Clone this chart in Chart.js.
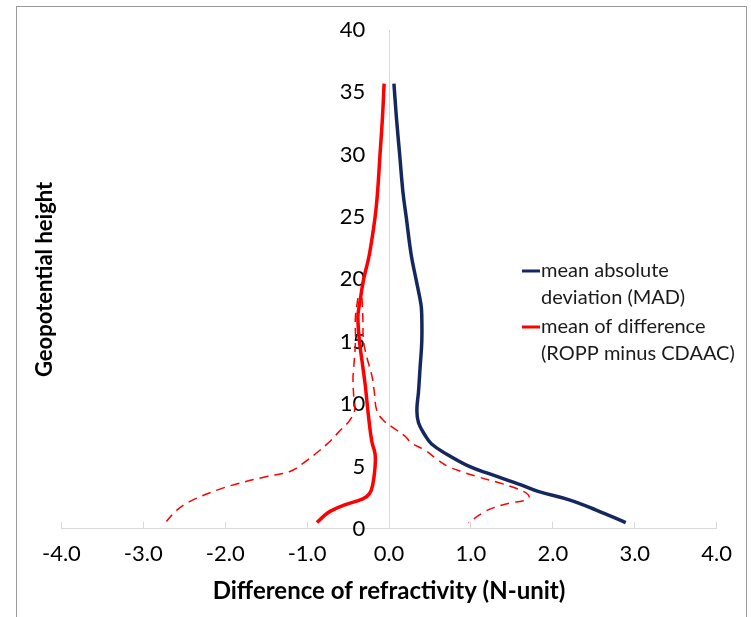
<!DOCTYPE html>
<html>
<head>
<meta charset="utf-8">
<script src="https://cdn.jsdelivr.net/npm/chart.js@4.4.1/dist/chart.umd.min.js"></script>
<style>
  html, body { margin: 0; padding: 0; background: #fff; }
  canvas { display: block; }
</style>
</head>
<body>
<canvas id="profile-chart" width="751" height="617"></canvas>
<script>
const profileChart = document.getElementById("profile-chart");

// 높이(Geopotential height) / 값 (N-unit)
const madHeight = [35.7, 33, 30, 27, 25, 22, 20, 18, 17, 15, 13, 11, 9.5, 8.5, 7.5, 6.8, 6, 5, 4.4, 3.5, 3, 2.3, 1.5, 0.5];
const madValues = [0.06, 0.09, 0.13, 0.17, 0.21, 0.27, 0.33, 0.39, 0.40, 0.40, 0.38, 0.36, 0.34, 0.36, 0.44, 0.52, 0.70, 0.98, 1.23, 1.62, 1.82, 2.21, 2.53, 2.89];

const meanHeight = [35.7, 33, 30, 27, 25, 22, 20, 18, 17, 15, 13, 11.5, 9, 7, 6, 5, 3.5, 2.8, 2.4, 1.9, 1.4, 1, 0.5];
const meanValues = [-0.06, -0.08, -0.11, -0.14, -0.17, -0.24, -0.31, -0.36, -0.38, -0.36, -0.32, -0.29, -0.25, -0.21, -0.17, -0.17, -0.20, -0.24, -0.32, -0.55, -0.72, -0.80, -0.88];

// 점선 (평균 - 표준편차)
const lowHeight = [18.5, 17, 15, 13, 12, 10.5, 9.5, 8.7, 8, 6.9, 6, 5.25, 4.6, 4.2, 3.6, 3.1, 2.2, 1.5, 0.5];
const lowValues = [-0.38, -0.41, -0.41, -0.43, -0.44, -0.43, -0.42, -0.48, -0.58, -0.74, -0.90, -1.05, -1.21, -1.49, -1.86, -2.10, -2.43, -2.59, -2.73];

// 점선 (평균 + 표준편차)
const highHeight = [18.5, 17, 15, 13.5, 12.3, 11, 9.5, 8.7, 8.2, 7.4, 6.9, 6.3, 5.5, 5, 4.6, 4.2, 3.6, 3.0, 2.6, 2.3, 2.1, 1.7, 1.3, 0.5];
const highValues = [-0.33, -0.32, -0.31, -0.26, -0.21, -0.18, -0.15, -0.07, 0.03, 0.20, 0.27, 0.44, 0.60, 0.72, 0.88, 1.07, 1.39, 1.64, 1.71, 1.67, 1.50, 1.28, 1.15, 0.97];

const xTickValues = [-4, -3, -2, -1, 0, 1, 2, 3, 4];
const yTickValues = [0, 5, 10, 15, 20, 25, 30, 35, 40];

const madLegend = ["mean absolute", "deviation (MAD)"];
const meanLegend = ["mean of difference", "(ROPP minus CDAAC)"];

// y축 라벨은 세로선(0) 왼쪽에 붙어 있음
const yLabelAnchor = -0.29;

const toPoints = (xs, ys) => xs.map((v, i) => ({ x: v, y: ys[i] }));

// 배경 + 테두리
const framePlugin = {
    id: "frame",
    beforeDraw(chart) {
        const ctx = chart.ctx;
        ctx.save();
        ctx.fillStyle = "#ffffff";
        ctx.fillRect(0, 0, chart.width, chart.height);
        ctx.strokeStyle = "#999999";
        ctx.lineWidth = 1;
        ctx.strokeRect(16.5, 6.5, 730, 640);
        ctx.restore();
    }
};

// 범례 (두 줄짜리 라벨)
const legendPlugin = {
    id: "twoLineLegend",
    afterDraw(chart) {
        const ctx = chart.ctx;
        ctx.save();
        ctx.font = "20px Lato";
        ctx.textBaseline = "middle";
        ctx.fillStyle = "#1a1a1a";
        const items = chart.data.datasets.filter(d => d.legendLines);
        let y = 271;
        items.forEach(d => {
            ctx.strokeStyle = d.borderColor;
            ctx.lineWidth = 3;
            ctx.beginPath();
            ctx.moveTo(522, y);
            ctx.lineTo(540, y);
            ctx.stroke();
            d.legendLines.forEach((line, i) => {
                ctx.fillText(line, 541, y + i * 27);
            });
            y += 56;
        });
        ctx.restore();
    }
};

const myProfileChart = new Chart(profileChart, {
    type: "line",
    data: {
        datasets: [{
            label: "mean absolute deviation (MAD)",
            legendLines: madLegend,
            data: toPoints(madValues, madHeight),
            borderColor: "#14285f",
            borderWidth: 3.5,
            pointRadius: 0,
            tension: 0.4,
            fill: false
        }, {
            label: "mean of difference (ROPP minus CDAAC)",
            legendLines: meanLegend,
            data: toPoints(meanValues, meanHeight),
            borderColor: "#ff0000",
            borderWidth: 3.5,
            pointRadius: 0,
            tension: 0.4,
            fill: false
        }, {
            label: "mean - sd",
            data: toPoints(lowValues, lowHeight),
            borderColor: "#ff0000",
            borderWidth: 1.5,
            borderDash: [9, 6],
            pointRadius: 0,
            tension: 0.4,
            fill: false
        }, {
            label: "mean + sd",
            data: toPoints(highValues, highHeight),
            borderColor: "#ff0000",
            borderWidth: 1.5,
            borderDash: [9, 6],
            pointRadius: 0,
            tension: 0.4,
            fill: false
        }]
    },
    options: {
        responsive: false,
        animation: false,
        layout: {
            padding: { left: 20, right: 20, top: 30, bottom: 11 }
        },
        scales: {
            x: {
                type: "linear",
                position: "bottom",
                min: -4,
                max: 4,
                afterBuildTicks: (scale) => {
                    scale.ticks = xTickValues.map(v => ({ value: v }));
                },
                ticks: {
                    padding: 19,
                    color: "#000",
                    font: { family: "Lato", size: 22 },
                    callback: (v) => Number(v).toFixed(1)
                },
                grid: {
                    drawOnChartArea: true,
                    drawTicks: true,
                    tickLength: -7,
                    // 0 위치의 세로선만 표시
                    color: (ctx) => (ctx.tick && ctx.tick.value === 0) ? "#d9d9d9" : "rgba(0,0,0,0)",
                    tickColor: "#d9d9d9"
                },
                border: { color: "#d9d9d9" },
                title: {
                    display: true,
                    text: "Difference of refractivity (N-unit)",
                    color: "#000",
                    font: { family: "Lato", size: 24, weight: "bold" },
                    padding: { top: -9, bottom: 0 }
                }
            },
            y: {
                type: "linear",
                position: { x: yLabelAnchor },
                min: 0,
                max: 40,
                afterBuildTicks: (scale) => {
                    scale.ticks = yTickValues.map(v => ({ value: v }));
                },
                ticks: {
                    color: "#000",
                    font: { family: "Lato", size: 22 }
                },
                grid: {
                    drawOnChartArea: false,
                    drawTicks: false
                },
                border: { display: false }
            }
        },
        plugins: {
            legend: { display: false },
            tooltip: { enabled: false },
            title: {
                display: true,
                position: "left",
                fullSize: false,
                text: "Geopotential height",
                color: "#000",
                font: { family: "Lato", size: 22, weight: "bold" },
                padding: { top: 12, bottom: 3 }
            }
        }
    },
    plugins: [framePlugin, legendPlugin]
});
</script>
</body>
</html>
